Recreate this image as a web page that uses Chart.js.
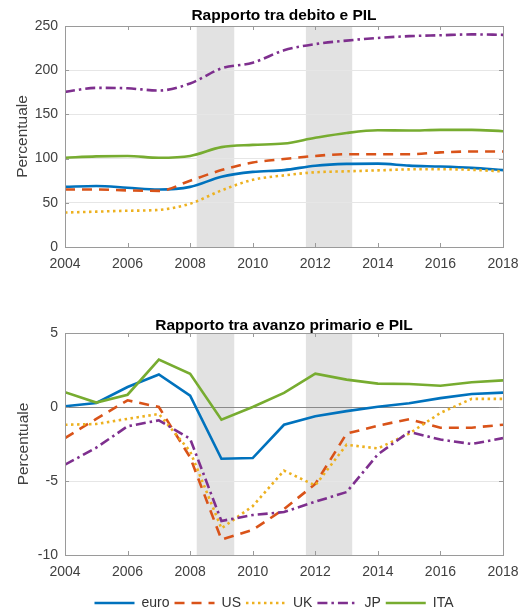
<!DOCTYPE html>
<html lang="it">
<head>
<meta charset="utf-8">
<script src="https://cdn.jsdelivr.net/npm/chart.js@4.4.1/dist/chart.umd.min.js"></script>
<style>
  html, body { margin: 0; padding: 0; background: #fff; }
  #wrap { position: relative; width: 532px; height: 612px; overflow: hidden; background: #fff; }
  canvas { position: absolute; left: 0; }
  #debt { top: 0; }
  #balance { top: 296px; }
</style>
</head>
<body>
<div id="wrap">
  <canvas id="debt" width="532" height="290"></canvas>
  <canvas id="balance" width="532" height="324"></canvas>
</div>
<script>
// Years on the horizontal axis
const years = [2004, 2005, 2006, 2007, 2008, 2009, 2010, 2011, 2012, 2013, 2014, 2015, 2016, 2017, 2018];
const yearTicks = [2004, 2006, 2008, 2010, 2012, 2014, 2016, 2018];

// Series names, in legend order
const seriesNames = ['euro', 'US', 'UK', 'JP', 'ITA'];

// Debt-to-GDP ratio (percent)
const debtEuro = [68, 69, 67, 65, 68, 79.5, 85, 87, 92, 94, 94.3, 92, 91, 89.5, 87];
const debtUS   = [65, 65, 64, 63.5, 75, 87, 95.5, 99.5, 103, 105, 105, 105, 107, 108, 108];
const debtUK   = [39, 40, 41, 42, 49, 64, 76, 81, 84.5, 85.6, 86.7, 87.8, 88, 87.3, 85.5];
const debtJP   = [175.5, 180, 179.5, 177, 185, 202, 208.5, 222.5, 229.5, 233.5, 236.5, 238.5, 239.5, 240.5, 240];
const debtITA  = [101, 102.5, 103, 101, 103, 113, 115.5, 117, 123.5, 129, 132, 131.8, 132.5, 132.5, 131];
const debtTicks = [0, 50, 100, 150, 200, 250];

// Primary balance-to-GDP ratio (percent)
const balEuro = [0.05, 0.27, 1.35, 2.2, 0.77, -3.5, -3.45, -1.2, -0.62, -0.28, 0.02, 0.25, 0.6, 0.88, 0.97];
const balUS   = [-2.1, -0.8, 0.45, 0.0, -3.4, -8.95, -8.3, -6.9, -5.2, -1.8, -1.26, -0.82, -1.4, -1.4, -1.2];
const balUK   = [-1.2, -1.15, -0.8, -0.47, -3.0, -8.2, -6.7, -4.3, -5.3, -2.55, -2.8, -1.8, -0.4, 0.55, 0.55];
const balJP   = [-3.9, -2.75, -1.3, -0.9, -2.15, -7.7, -7.3, -7.1, -6.4, -5.75, -3.2, -1.68, -2.2, -2.5, -2.1];
const balITA  = [1.0, 0.3, 0.83, 3.2, 2.25, -0.86, 0.0, 0.95, 2.25, 1.85, 1.58, 1.55, 1.44, 1.67, 1.8];
const balanceTicks = [-10, -5, 0, 5];

// Shaded periods (start / end, fractional years)
const shadeStart = [2008.21, 2011.70];
const shadeEnd   = [2009.41, 2013.18];

const FONT = "'Liberation Sans', Arial, Helvetica, sans-serif";
Chart.defaults.font.family = FONT;
Chart.defaults.font.size = 14;

const lineStyle = {
  euro: { color: '#0072BD', dash: [] },
  US:   { color: '#D95319', dash: [10, 7] },
  UK:   { color: '#EDB120', dash: [2.5, 3.5] },
  JP:   { color: '#7E2F8E', dash: [10, 4, 2.5, 4] },
  ITA:  { color: '#77AC30', dash: [] }
};

function makeDatasets(seriesList, smooth) {
  return seriesList.map((values, i) => {
    const name = seriesNames[i];
    const st = lineStyle[name];
    return {
      label: name,
      data: years.map((yr, k) => ({ x: yr, y: values[k] })),
      borderColor: st.color,
      backgroundColor: st.color,
      borderDash: st.dash,
      borderWidth: 2.6,
      pointRadius: 0,
      fill: false,
      cubicInterpolationMode: smooth ? 'monotone' : 'default',
      tension: 0,
      order: seriesNames.length - i
    };
  });
}

// Background shading, plot frame and inward tick marks
const framePlugin = {
  id: 'frame',
  beforeDraw(chart) {
    const { ctx, chartArea: a, scales } = chart;
    ctx.save();
    ctx.fillStyle = '#ffffff';
    ctx.fillRect(0, 0, chart.width, chart.height);
    ctx.fillStyle = '#e2e2e2';
    shadeStart.forEach((s, i) => {
      const x0 = scales.x.getPixelForValue(s);
      const x1 = scales.x.getPixelForValue(shadeEnd[i]);
      ctx.fillRect(x0, a.top, x1 - x0, a.bottom - a.top);
    });
    ctx.restore();
  },
  afterDatasetsDraw(chart) {
    const { ctx, chartArea: a, scales } = chart;
    const len = 4;
    ctx.save();
    ctx.strokeStyle = '#9a9a9a';
    ctx.lineWidth = 1;
    ctx.beginPath();
    scales.x.ticks.forEach(t => {
      const px = Math.round(scales.x.getPixelForValue(t.value)) + 0.5;
      ctx.moveTo(px, a.bottom); ctx.lineTo(px, a.bottom - len);
      ctx.moveTo(px, a.top); ctx.lineTo(px, a.top + len);
    });
    scales.y.ticks.forEach(t => {
      const py = Math.round(scales.y.getPixelForValue(t.value)) + 0.5;
      ctx.moveTo(a.left, py); ctx.lineTo(a.left + len, py);
      ctx.moveTo(a.right, py); ctx.lineTo(a.right - len, py);
    });
    ctx.stroke();
    ctx.strokeRect(Math.round(a.left) + 0.5, Math.round(a.top) + 0.5,
                   Math.round(a.right - a.left), Math.round(a.bottom - a.top));
    ctx.restore();
  }
};

function xScale(height) {
  return {
    type: 'linear',
    min: years[0],
    max: years[years.length - 1],
    grid: { display: false },
    border: { display: false },
    ticks: {
      color: '#404040',
      padding: 1,
      maxRotation: 0,
      autoSkip: false,
      callback: v => String(v)
    },
    afterBuildTicks: s => { s.ticks = yearTicks.map(v => ({ value: v })); },
    afterFit: s => { s.height = height; }
  };
}

function yScale(tickValues, width, titlePad, gridColor) {
  return {
    type: 'linear',
    min: tickValues[0],
    max: tickValues[tickValues.length - 1],
    grid: { color: gridColor, drawTicks: false, lineWidth: 1 },
    border: { display: false },
    ticks: { color: '#404040', padding: 7 },
    afterBuildTicks: s => { s.ticks = tickValues.map(v => ({ value: v })); },
    title: {
      display: true,
      text: 'Percentuale',
      color: '#404040',
      font: { size: 15.5 },
      padding: { top: titlePad, bottom: 0 }
    },
    afterFit: s => { s.width = width; }
  };
}

// Legend entries carry each series' own dash pattern and width
function legendLabels(chart) {
  const items = Chart.defaults.plugins.legend.labels.generateLabels(chart);
  items.forEach(it => {
    const ds = chart.data.datasets[it.datasetIndex];
    it.lineDash = ds.borderDash;
    it.lineWidth = ds.borderWidth;
    it.strokeStyle = ds.borderColor;
    it.fillStyle = ds.borderColor;
  });
  return items;
}

// Debt chart
new Chart(document.getElementById('debt'), {
  type: 'line',
  data: { datasets: makeDatasets([debtEuro, debtUS, debtUK, debtJP, debtITA], true) },
  options: {
    responsive: false,
    animation: false,
    devicePixelRatio: 1,
    events: [],
    layout: { padding: { left: 0, right: 29, top: 0, bottom: 0 } },
    plugins: {
      legend: { display: false },
      tooltip: { enabled: false },
      title: {
        display: true,
        text: 'Rapporto tra debito e PIL',
        fullSize: false,
        color: '#000',
        font: { size: 15.5, weight: 'bold' },
        padding: { top: 6, bottom: 1.4 }
      }
    },
    scales: {
      x: xScale(43),
      y: yScale(debtTicks, 65, 13.7, '#e6e6e6')
    }
  },
  plugins: [framePlugin]
});

// Primary balance chart
new Chart(document.getElementById('balance'), {
  type: 'line',
  data: { datasets: makeDatasets([balEuro, balUS, balUK, balJP, balITA], false) },
  options: {
    responsive: false,
    animation: false,
    devicePixelRatio: 1,
    events: [],
    layout: { padding: { left: 16, right: 0, top: 0, bottom: 0 } },
    plugins: {
      tooltip: { enabled: false },
      title: {
        display: true,
        text: 'Rapporto tra avanzo primario e PIL',
        fullSize: false,
        color: '#000',
        font: { size: 15.5, weight: 'bold' },
        padding: { top: 20, bottom: -1.6 }
      },
      legend: {
        display: true,
        position: 'bottom',
        labels: {
          usePointStyle: true,
          pointStyle: 'line',
          pointStyleWidth: 40,
          padding: 5,
          color: '#333',
          font: { size: 14 },
          generateLabels: legendLabels,
          sort: (a, b) => a.datasetIndex - b.datasetIndex
        }
      }
    },
    scales: {
      x: xScale(36),
      y: yScale(balanceTicks, 49, -1.5, ctx => (ctx.tick && ctx.tick.value === 0) ? '#8a8a8a' : '#e6e6e6'),
      edge: {
        type: 'linear',
        position: 'right',
        display: true,
        grid: { display: false },
        border: { display: false },
        ticks: { display: false },
        afterFit: s => { s.width = 29; }
      }
    }
  },
  plugins: [framePlugin]
});
</script>
</body>
</html>
